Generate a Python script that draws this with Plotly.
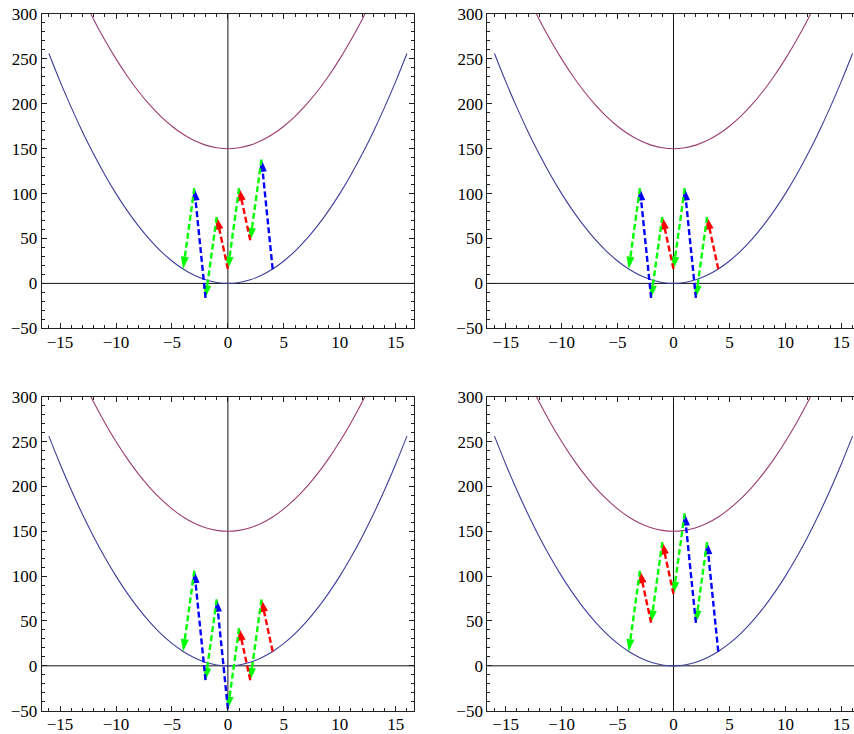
import plotly.graph_objects as go

# ---- data ----
curve_x = list(range(-16, 17))
lower_y = [256, 225, 196, 169, 144, 121, 100, 81, 64, 49, 36, 25, 16, 9, 4, 1, 0,
           1, 4, 9, 16, 25, 36, 49, 64, 81, 100, 121, 144, 169, 196, 225, 256]
upper_x = list(range(-13, 14))
upper_y = [319, 294, 271, 250, 231, 214, 199, 186, 175, 166, 159, 154, 151, 150,
           151, 154, 159, 166, 175, 186, 199, 214, 231, 250, 271, 294, 319]

step_x = [4, 3, 2, 1, 0, -1, -2, -3, -4]
panel_y = [
    [16, 138, 48, 106, 16, 74, -16, 106, 16],   # top-left
    [16, 74, -16, 106, 16, 74, -16, 106, 16],   # top-right
    [16, 74, -16, 42, -48, 74, -16, 106, 16],   # bottom-left
    [16, 138, 48, 170, 80, 138, 48, 106, 16],   # bottom-right
]
panel_up_colors = [
    ["blue", "red", "red", "blue"],
    ["red", "blue", "red", "blue"],
    ["red", "red", "blue", "blue"],
    ["blue", "blue", "red", "red"],
]
x_ticks = [-15, -10, -5, 0, 5, 10, 15]
y_ticks = [-50, 0, 50, 100, 150, 200, 250, 300]

COL = {"blue": "#0000FF", "red": "#FF0000", "green": "#00FF00"}
C_LOW = "rgb(61,61,153)"
C_UP = "rgb(153,61,113)"
FONT = "Liberation Serif"

W, H = 854, 734
px = 11.19  # pixels per x unit

# panel geometry (pixels)
panels = [
    dict(left=41.7, top=14.0, bottom=328.3, right=414.3),
    dict(left=487.3, top=14.0, bottom=328.3, right=854.0),
    dict(left=41.7, top=396.7, bottom=710.7, right=414.3),
    dict(left=487.3, top=396.7, bottom=710.7, right=854.0),
]


def lab(v):
    return ("\u2212" + str(-v)) if v < 0 else str(v)


fig = go.Figure()
layout = dict(width=W, height=H, margin=dict(l=0, r=0, t=0, b=0, autoexpand=False),
              paper_bgcolor="white", plot_bgcolor="white", showlegend=False,
              template="none",
              font=dict(family=FONT, size=17, color="black"))

for i, p in enumerate(panels):
    n = "" if i == 0 else str(i + 1)
    xa, ya = "x" + n, "y" + n
    xmin = -16.64
    xmax = xmin + (p["right"] - p["left"]) / px
    right_panel = i in (1, 3)
    layout["xaxis" + n] = dict(
        domain=[p["left"] / W, p["right"] / W], anchor=ya, range=[xmin, xmax],
        automargin=False,
        showgrid=False, zeroline=False, showline=True, linecolor="#222", linewidth=1,
        mirror="allticks", ticks="inside", ticklen=5, tickcolor="#222", tickwidth=1,
        tickvals=x_ticks, ticktext=[lab(v) for v in x_ticks],
        ticklabelstandoff=-2,
        minor=dict(dtick=1, tick0=0, ticks="inside", ticklen=3, tickcolor="#222", showgrid=False),
        tickfont=dict(family=FONT, size=17, color="black"))
    layout["yaxis" + n] = dict(
        domain=[1 - p["bottom"] / H, 1 - p["top"] / H], anchor=xa, range=[-50, 300],
        automargin=False,
        showgrid=False, zeroline=False, showline=True, linecolor="#222", linewidth=1,
        mirror=False if right_panel else "allticks", ticks="inside", ticklen=5,
        tickcolor="#222", tickwidth=1,
        tickvals=y_ticks, ticktext=[lab(v) for v in y_ticks],
        minor=dict(dtick=10, tick0=0, ticks="inside", ticklen=3, tickcolor="#222", showgrid=False),
        tickfont=dict(family=FONT, size=17, color="black"))

    # axes through origin
    fig.add_trace(go.Scatter(x=[xmin, xmax], y=[0, 0], mode="lines",
                             line=dict(color="#111", width=1), xaxis=xa, yaxis=ya,
                             hoverinfo="skip"))
    fig.add_trace(go.Scatter(x=[0, 0], y=[-50, 300], mode="lines",
                             line=dict(color="#111", width=1), xaxis=xa, yaxis=ya,
                             hoverinfo="skip"))
    # curves
    fig.add_trace(go.Scatter(x=curve_x, y=lower_y, mode="lines",
                             line=dict(color=C_LOW, width=1.1, shape="spline"),
                             xaxis=xa, yaxis=ya))
    fig.add_trace(go.Scatter(x=upper_x, y=upper_y, mode="lines",
                             line=dict(color=C_UP, width=1.1, shape="spline"),
                             xaxis=xa, yaxis=ya))
    # arrows
    ys = panel_y[i]
    ups = panel_up_colors[i]
    for k in range(len(step_x) - 1):
        c = COL[ups[k // 2]] if k % 2 == 0 else COL["green"]
        fig.add_trace(go.Scatter(
            x=[step_x[k], step_x[k + 1]], y=[ys[k], ys[k + 1]],
            mode="lines+markers",
            line=dict(color=c, width=2.4, dash="6px,3px"),
            marker=dict(symbol="arrow", size=13, angleref="previous", color=c,
                        line=dict(width=0)),
            xaxis=xa, yaxis=ya, cliponaxis=False))

fig.update_layout(**layout)
fig.write_html("out.html")
